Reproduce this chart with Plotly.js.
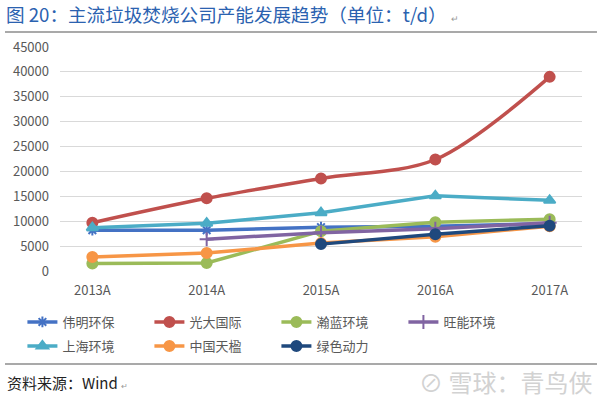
<!DOCTYPE html>
<html><head><meta charset="utf-8">
<script src="https://cdn.plot.ly/plotly-3.0.1.min.js"></script>
<style>html,body{margin:0;padding:0;background:#fff;}#chart{width:600px;height:398px;}</style>
</head><body><div id="chart"></div>
<script>
const categories = ['2013A','2014A','2015A','2016A','2017A'];
const weiming   = [8200, 8200, 8800, 9000, 9500];     // 伟明环保
const guangda   = [9700, 14600, 18600, 22400, 39000]; // 光大国际
const hanlan    = [1500, 1600, 8000, 9800, 10400];    // 瀚蓝环境
const wangneng  = [null, 6400, 7700, 8500, 9700];     // 旺能环境
const shanghai  = [8700, 9600, 11700, 15100, 14200];  // 上海环境
const tianying  = [2800, 3600, 5600, 6900, 9000];     // 中国天楹
const lvse      = [null, null, 5400, 7400, 9100];     // 绿色动力
const yTicks = [0,5000,10000,15000,20000,25000,30000,35000,40000,45000];

function tr(name, y, color, symbol, size, legend, shape){
  return {type:'scatter', mode:'lines+markers', name:name, x:categories, y:y, legend:legend,
    line:{color:color, width:3.5, shape:shape||'linear', smoothing:0.9},
    marker:{color:color, symbol:symbol, size:size, line:{color:color, width:2}},
    connectgaps:false};
}
const data = [
  tr('伟明环保', weiming, '#4472C4', 'asterisk-open', 9, 'legend'),
  tr('光大国际', guangda, '#C0504D', 'circle', 10, 'legend', 'spline'),
  tr('瀚蓝环境', hanlan, '#9BBB59', 'circle', 10, 'legend'),
  tr('旺能环境', wangneng, '#8064A2', 'cross-thin-open', 10, 'legend'),
  tr('上海环境', shanghai, '#4BACC6', 'triangle-up', 10, 'legend2'),
  tr('中国天楹', tianying, '#F79646', 'circle', 10, 'legend2'),
  tr('绿色动力', lvse, '#1F497D', 'circle', 10, 'legend2')
];
const font = "'Noto Sans CJK SC', 'Noto Sans', sans-serif";
const legBase = {orientation:'h', x:-0.072, xanchor:'left', yanchor:'middle',
    entrywidth:82, entrywidthmode:'pixels', font:{size:13, color:'#595959'},
    itemwidth:30, traceorder:'normal', bgcolor:'rgba(0,0,0,0)'};
const layout = {
  width:600, height:398,
  margin:{l:60, r:18, t:47, b:127},
  paper_bgcolor:'#fff', plot_bgcolor:'#fff',
  font:{family:font, color:'#595959', size:12},
  title:{text:'图 20：主流垃圾焚烧公司产能发展趋势（单位：t/d） <span style="font-size:9px;color:#999">↵</span>',
    font:{family:font, size:18.6, color:'#2B62B0'}, x:6/600, xanchor:'left', xref:'container',
    y:1-15/398, yanchor:'middle', yref:'container'},
  xaxis:{type:'category', showgrid:false, zeroline:false, showline:false, ticks:'',
    tickfont:{size:13, color:'#595959'}, ticklabelstandoff:10, fixedrange:true},
  yaxis:{range:[0,45000], tickvals:yTicks, ticktext:yTicks.map(String), showgrid:true,
    gridcolor:'#D9D9D9', gridwidth:1.2, zeroline:false, showline:false, ticks:'',
    tickfont:{size:13, color:'#595959'}, ticklabelstandoff:10, fixedrange:true},
  showlegend:true,
  legend:Object.assign({}, legBase, {y:(271-322)/224}),
  legend2:Object.assign({}, legBase, {y:(271-346)/224}),
  shapes:[
    {type:'line', xref:'paper', yref:'paper', x0:-0.1054, x1:1.0287, y0:(271-32)/224, y1:(271-32)/224,
      line:{color:'#555', width:1.2}},
    {type:'line', xref:'paper', yref:'paper', x0:-0.1054, x1:1.0287, y0:(271-364)/224, y1:(271-364)/224,
      line:{color:'#555', width:1.2}}
  ],
  annotations:[
    {xref:'paper', yref:'paper', x:(5-60)/522, y:(271-382)/224, xanchor:'left', yanchor:'middle',
      text:'资料来源：Wind <span style="font-size:8px;color:#999">↵</span>', showarrow:false,
      font:{family:font, size:15, color:'#222'}},
    {xref:'paper', yref:'paper', x:(594-60)/522, y:(271-381)/224, xanchor:'right', yanchor:'middle',
      text:'⊘ 雪球：青鸟侠', showarrow:false,
      font:{family:font, size:24, color:'#D2D2D2'}}
  ]
};
Plotly.newPlot('chart', data, layout, {displayModeBar:false, staticPlot:true});
</script></body></html>
